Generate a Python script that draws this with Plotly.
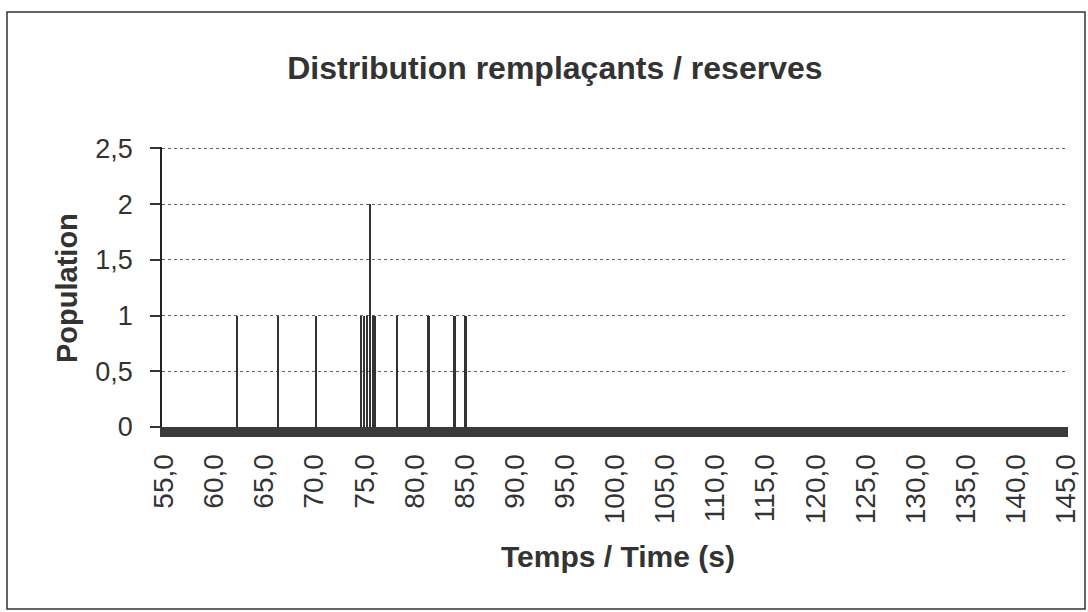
import plotly.graph_objects as go

# Data
times = [62.3, 66.4, 70.2, 74.7, 75.0, 75.3, 75.6, 75.9, 76.1, 78.3, 81.4, 84.0, 85.1]
population = [1, 1, 1, 1, 1, 1, 2, 1, 1, 1, 1, 1, 1]

x_ticks = [55 + 5 * i for i in range(19)]
y_ticks = [0, 0.5, 1, 1.5, 2, 2.5]

title_text = "Distribution remplaçants / reserves"
x_title = "Temps / Time (s)"
y_title = "Population"

FONT = "Liberation Sans, Arial, sans-serif"
DARK = "#333333"

fig = go.Figure()
fig.add_trace(go.Bar(
    x=times, y=population, width=0.19,
    marker=dict(color="#333333", line=dict(width=0)),
    showlegend=False,
))

fig.update_layout(
    width=1088, height=612,
    margin=dict(l=162, r=20, t=147, b=185, autoexpand=False),
    paper_bgcolor="white", plot_bgcolor="white",
    separators=", ",
    font=dict(family=FONT, color=DARK),
    title=dict(text="<b>" + title_text + "</b>", x=0.51, xref="container",
               y=1 - 68 / 612, yref="container", xanchor="center", yanchor="middle",
               font=dict(family=FONT, size=32, color=DARK)),
    bargap=0,
)

fig.update_xaxes(
    range=[54.8, 145.2],
    tickmode="array", tickvals=x_ticks, tickformat=".1f",
    tickangle=-90, tickfont=dict(family=FONT, size=28, color=DARK),
    showgrid=False, zeroline=False,
    showline=True, linewidth=10, linecolor="#3a3a3a",
    ticks="", ticklabelstandoff=6, automargin=False,
)
fig.update_yaxes(
    range=[0, 2.512],
    tickmode="array", tickvals=y_ticks,
    tickfont=dict(family=FONT, size=27, color=DARK),
    showgrid=True, gridcolor="#666666", gridwidth=1, griddash="dot",
    zeroline=False,
    showline=True, linewidth=1.5, linecolor="#222222",
    ticks="outside", ticklen=10, tickcolor="#333333", tickwidth=1.5,
    ticklabelstandoff=12, automargin=False,
)

# axis titles
fig.add_annotation(text="<b>" + y_title + "</b>", xref="paper", yref="paper",
                   x=(67 - 162) / 906, y=(427 - 288) / 280, textangle=-90,
                   showarrow=False, font=dict(family=FONT, size=29, color=DARK),
                   xanchor="center", yanchor="middle")
fig.add_annotation(text="<b>" + x_title + "</b>", xref="paper", yref="paper",
                   x=(618 - 162) / 906, y=(427 - 556) / 280,
                   showarrow=False, font=dict(family=FONT, size=30, color=DARK),
                   xanchor="center", yanchor="middle")

# outer chart border
fig.add_shape(type="rect", xref="paper", yref="paper",
              x0=(7 - 162) / 906, x1=(1085 - 162) / 906,
              y0=(427 - 609) / 280, y1=(427 - 12) / 280,
              line=dict(color="#333333", width=1.5), fillcolor="rgba(0,0,0,0)",
              layer="below")

fig.write_html("out.html", config={"displayModeBar": False},
               post_script="document.body.style.margin='0';")
